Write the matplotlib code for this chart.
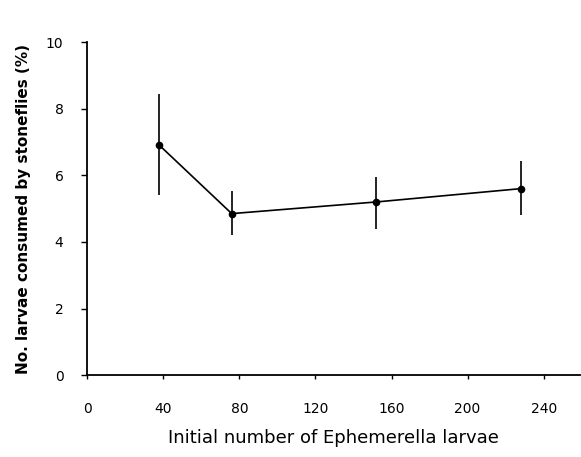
import matplotlib.pyplot as plt

# --- DATA ---
larvae = [38, 76, 152, 228]
consumed = [6.9, 4.85, 5.2, 5.6]
err_low = [1.5, 0.65, 0.8, 0.78]
err_high = [1.55, 0.68, 0.74, 0.82]
xticks = [0, 40, 80, 120, 160, 200, 240]
yticks = [0, 2, 4, 6, 8, 10]

# --- PLOT ---
fig = plt.figure(figsize=(5.81, 4.57), dpi=100)
ax = fig.add_axes([0.15, 0.179, 0.848, 0.729])

ax.errorbar(larvae, consumed, yerr=[err_low, err_high], color="black",
            lw=1.2, elinewidth=1.2, capsize=0, marker="o", markersize=4.5)

ax.set_xlim(0, 259)
ax.set_ylim(0, 10)
ax.set_xticks(xticks)
ax.set_yticks(yticks)

ax.spines["top"].set_visible(False)
ax.spines["right"].set_visible(False)
ax.spines["left"].set_linewidth(1.3)
ax.spines["bottom"].set_linewidth(1.3)

ax.tick_params(axis="x", direction="out", length=3, width=1, pad=16, labelsize=10)
ax.tick_params(axis="y", direction="out", length=4, width=1, pad=13, labelsize=10)

ax.set_xlabel("Initial number of Ephemerella larvae", fontsize=13, labelpad=10)
ax.set_ylabel("No. larvae consumed by stoneflies (%)", fontsize=11,
              fontweight="bold", labelpad=11)

plt.savefig("out.png", dpi=100)
